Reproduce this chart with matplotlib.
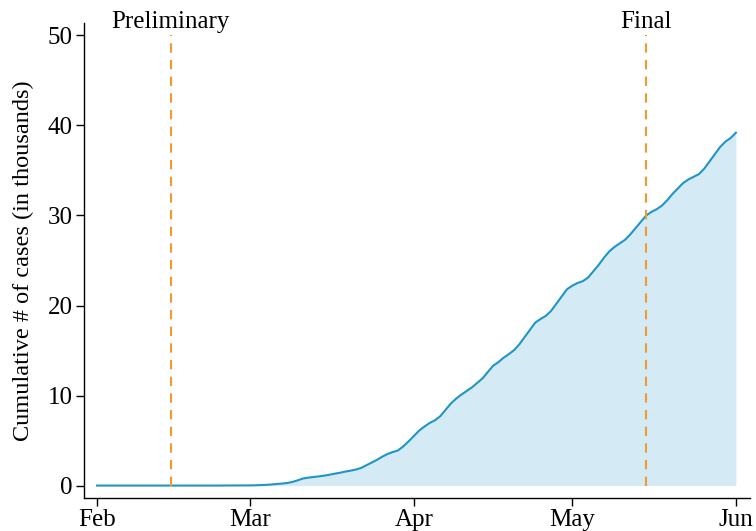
import matplotlib
matplotlib.use("Agg")
import matplotlib.pyplot as plt
import matplotlib.dates as mdates
import pandas as pd

# cumulative cases (thousands), one value per day Feb 1 .. Jun 1 2020
feb = [0.0] * 20 + [0.0, 0.0, 0.0, 0.0, 0.005, 0.008, 0.01, 0.012, 0.015]
mar = [0.02, 0.03, 0.05, 0.08, 0.12, 0.17, 0.22, 0.28, 0.4, 0.58,
       0.78, 0.88, 0.95, 1.02, 1.1, 1.2, 1.32, 1.42, 1.55, 1.65,
       1.78, 1.95, 2.25, 2.55, 2.85, 3.2, 3.5, 3.72, 3.9, 4.35, 4.9]
apr = [5.5, 6.1, 6.55, 6.95, 7.25, 7.7, 8.4, 9.1, 9.65, 10.1,
       10.5, 10.9, 11.4, 11.9, 12.6, 13.3, 13.7, 14.2, 14.6, 15.05,
       15.7, 16.5, 17.3, 18.1, 18.5, 18.85, 19.4, 20.2, 21.0, 21.8]
may = [22.2, 22.5, 22.7, 23.1, 23.8, 24.5, 25.3, 26.0, 26.5, 26.9,
       27.3, 27.9, 28.6, 29.3, 30.0, 30.4, 30.7, 31.1, 31.7, 32.4,
       33.0, 33.6, 34.0, 34.3, 34.6, 35.2, 36.0, 36.8, 37.6, 38.2, 38.6]
jun = [39.2]
cases = feb + mar + apr + may + jun
dates = pd.date_range("2020-02-01", "2020-06-01", freq="D")

markers = {"Preliminary": pd.Timestamp("2020-02-15"), "Final": pd.Timestamp("2020-05-15")}
month_ticks = pd.date_range("2020-02-01", "2020-06-01", freq="MS")

plt.rcParams["font.family"] = ["Liberation Serif", "DejaVu Serif"]

fig = plt.figure(figsize=(7.56, 5.31), dpi=100)
ax = fig.add_axes([0.111, 0.062, 0.881, 0.895])

ax.fill_between(dates, 0, cases, color="#d4eaf4", lw=0)
ax.plot(dates, cases, color="#1f95c6", lw=1.5)

for lbl, d in markers.items():
    ax.plot([d, d], [0, 50], color="#f39a2c", lw=1.5, dashes=(4.5, 3.5))
    ax.text(d, 50.3, lbl, ha="center", va="bottom", fontsize=18)

ax.set_xlim(dates[0] - pd.Timedelta(days=2.47), dates[-1] + pd.Timedelta(days=2.66))
ax.set_ylim(-1.39, 51.4)
ax.set_xticks(month_ticks)
ax.xaxis.set_major_formatter(mdates.DateFormatter("%b"))
ax.set_yticks([0, 10, 20, 30, 40, 50])
ax.tick_params(labelsize=18, length=6, width=1, colors="black", pad=2)
ax.set_ylabel("Cumulative # of cases (in thousands)", fontsize=17.5, labelpad=10)

for s in ["top", "right"]:
    ax.spines[s].set_visible(False)
for s in ["left", "bottom"]:
    ax.spines[s].set_linewidth(1)

fig.savefig("out.png", dpi=100)
